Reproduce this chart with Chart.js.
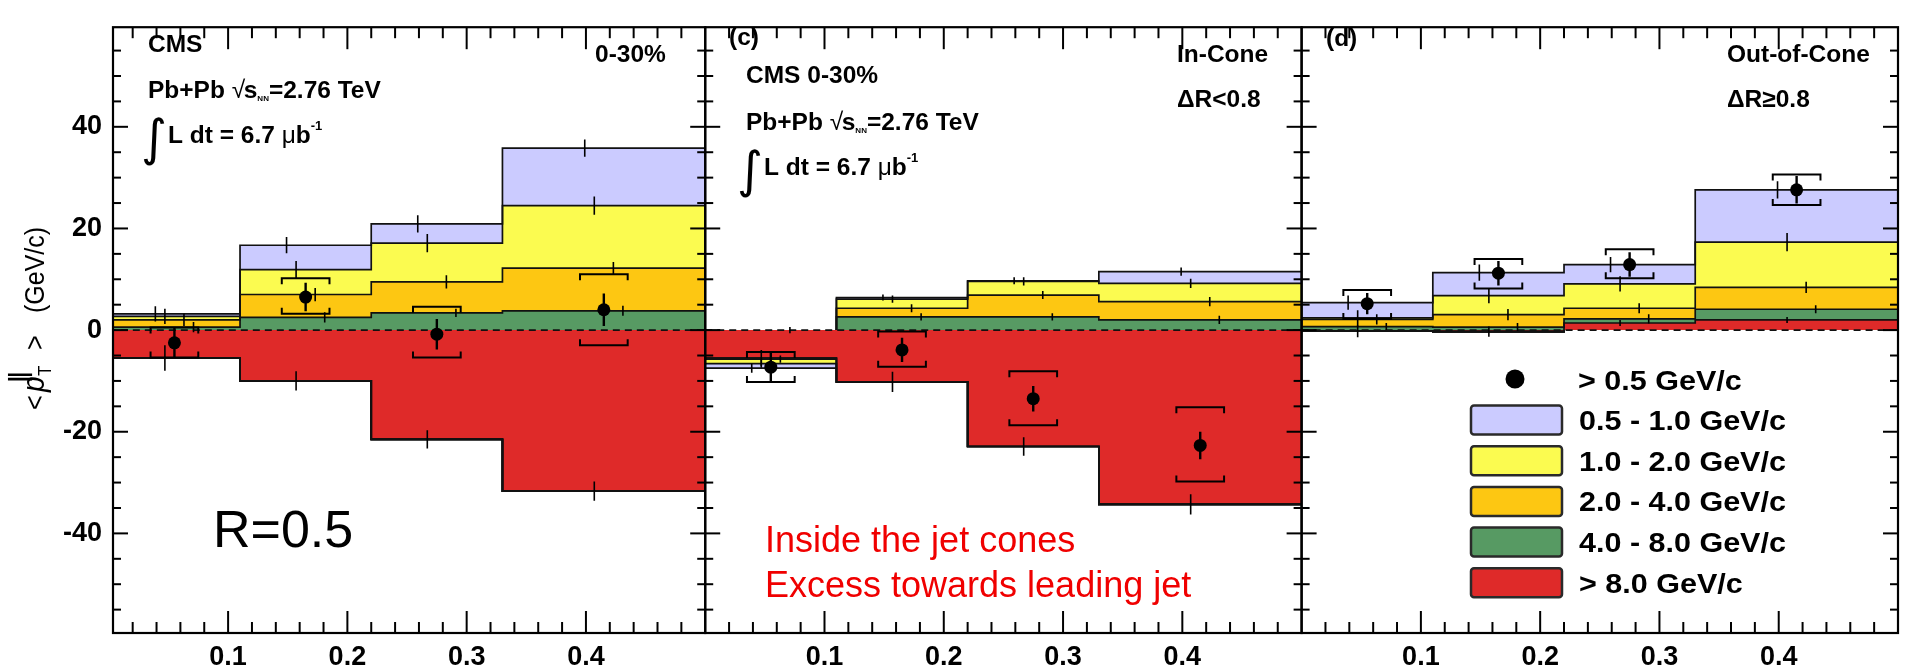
<!DOCTYPE html>
<html>
<head>
<meta charset="utf-8">
<title>Missing pT balance vs ΔR</title>
<script src="https://cdn.jsdelivr.net/npm/chart.js@4.4.1/dist/chart.umd.min.js"></script>
<style>
  html, body { margin: 0; padding: 0; background: #fff; }
  #wrap { width: 1912px; height: 672px; position: relative; }
  canvas { display: block; }
</style>
</head>
<body>
<div id="wrap"><canvas id="c" width="1912" height="672"></canvas></div>
<script>
// ΔR bin edges shared by the three panels
const binEdges = [0, 0.11, 0.22, 0.33, 0.5];
const xTickVals = [0.1, 0.2, 0.3, 0.4];
const xTickLabels = ['0.1', '0.2', '0.3', '0.4'];
const yTickVals = [-40, -20, 0, 20, 40];

// Panel 1: all tracks, R=0.5 — stacked contributions per track pT range (GeV/c)
const allGt8   = [-5.5, -10.0, -21.5, -31.7];
const all4to8  = [0.6, 2.5, 3.4, 3.8];
const all2to4  = [1.4, 4.5, 6.1, 8.4];
const all1to2  = [0.7, 4.9, 7.6, 12.3];
const all05to1 = [0.5, 4.8, 3.8, 11.3];
const allErrGt8   = [2.5, 1.9, 1.8, 1.9];
const allErr4to8  = [1.0, 1.0, 0.8, 1.0];
const allErr2to4  = [1.2, 1.3, 1.3, 1.2];
const allErr1to2  = [1.5, 1.7, 1.8, 1.8];
const allErr05to1 = [1.5, 1.6, 1.7, 1.7];
const allTotal = [-2.5, 6.5, -0.8, 4.0];
const allStat  = [3.0, 2.8, 3.0, 3.2];
const allSysHi = [0.5, 10.2, 4.6, 11.0];
const allSysLo = [-5.4, 3.2, -5.4, -3.0];

// Panel 2: in-cone (ΔR<0.8)
const inGt8   = [-5.5, -10.2, -22.9, -34.3];
const in4to8  = [0.0, 2.6, 2.6, 2.0];
const in2to4  = [-0.2, 1.7, 4.3, 3.6];
const in1to2  = [-0.9, 1.8, 2.7, 3.6];
const in05to1 = [-0.9, 0.3, 0.1, 2.3];
const inErrGt8   = [1.6, 2.0, 1.8, 2.0];
const inErr4to8  = [0.6, 0.7, 0.7, 0.8];
const inErr2to4  = [0.7, 0.8, 0.8, 0.9];
const inErr1to2  = [0.8, 0.7, 0.8, 0.9];
const inErr05to1 = [0.9, 0.6, 0.7, 0.8];
const inTotal = [-7.3, -3.9, -13.5, -22.7];
const inStat  = [2.8, 2.4, 2.5, 2.7];
const inSysHi = [-4.3, -0.3, -8.1, -15.2];
const inSysLo = [-10.2, -7.2, -18.7, -29.8];

// Panel 3: out-of-cone (ΔR≥0.8)
const outGt8   = [-0.2, -0.3, 1.4, 2.0];
const out4to8  = [0.7, 0.6, 0.8, 2.1];
const out2to4  = [1.4, 2.45, 2.1, 4.3];
const out1to2  = [0.3, 3.75, 4.8, 8.9];
const out05to1 = [3.0, 4.5, 3.8, 10.3];
const outErrGt8   = [1.2, 1.0, 0.6, 0.6];
const outErr4to8  = [0.7, 0.8, 0.9, 0.8];
const outErr2to4  = [1.0, 1.1, 1.0, 1.1];
const outErr1to2  = [1.5, 1.5, 1.5, 1.8];
const outErr05to1 = [1.4, 1.6, 1.5, 1.7];
const outTotal = [5.2, 11.2, 12.9, 27.6];
const outStat  = [2.1, 2.4, 2.4, 2.7];
const outSysHi = [7.9, 14.0, 15.9, 30.6];
const outSysLo = [2.2, 8.2, 10.2, 24.6];

// stacking order (from zero outward): >8, 4-8, 2-4, 1-2, 0.5-1
const compColors = ['#df2a29', '#579a63', '#fdc712', '#fbfb50', '#cbcbff'];
const compLabels = ['> 8.0 GeV/c', '4.0 - 8.0 GeV/c', '2.0 - 4.0 GeV/c', '1.0 - 2.0 GeV/c', '0.5 - 1.0 GeV/c'];
const errOffsets = [-0.008, 0.016, 0.008, -0.008, -0.016];

const panels = [
  { comps: [allGt8, all4to8, all2to4, all1to2, all05to1],
    errs: [allErrGt8, allErr4to8, allErr2to4, allErr1to2, allErr05to1],
    total: allTotal, stat: allStat, sysHi: allSysHi, sysLo: allSysLo },
  { comps: [inGt8, in4to8, in2to4, in1to2, in05to1],
    errs: [inErrGt8, inErr4to8, inErr2to4, inErr1to2, inErr05to1],
    total: inTotal, stat: inStat, sysHi: inSysHi, sysLo: inSysLo },
  { comps: [outGt8, out4to8, out2to4, out1to2, out05to1],
    errs: [outErrGt8, outErr4to8, outErr2to4, outErr1to2, outErr05to1],
    total: outTotal, stat: outStat, sysHi: outSysHi, sysLo: outSysLo }
];

const PANEL_W = 0.5;
const nBins = binEdges.length - 1;
const centers = binEdges.slice(0, -1).map((e, i) => (e + binEdges[i + 1]) / 2);

// positive parts stack upward, negative parts stack downward
function stackPanel(comps) {
  const pos = new Array(nBins).fill(0), neg = new Array(nBins).fill(0);
  return comps.map(vals => {
    const inner = [], outer = [], posCum = [], negCum = [];
    for (let i = 0; i < nBins; i++) {
      const v = vals[i];
      if (v >= 0) { inner.push(pos[i]); pos[i] += v; outer.push(pos[i]); }
      else { inner.push(neg[i]); neg[i] += v; outer.push(neg[i]); }
      posCum.push(pos[i]); negCum.push(neg[i]);
    }
    return { inner, outer, posCum, negCum };
  });
}
// stepped-line points: one per bin at its left edge, plus the closing right edge
function stepPts(off, vals) {
  const pts = vals.map((v, i) => ({ x: off + binEdges[i], y: v }));
  pts.push({ x: off + binEdges[nBins], y: vals[nBins - 1] });
  return pts;
}
// outline points: both edges of every bin
function edgePts(off, vals) {
  const pts = [];
  vals.forEach((v, i) => { pts.push({ x: off + binEdges[i], y: v }); pts.push({ x: off + binEdges[i + 1], y: v }); });
  return pts;
}

const datasets = [];
const stacks = panels.map(p => stackPanel(p.comps));
panels.forEach((p, pi) => {
  const off = pi * PANEL_W;
  const levels = stacks[pi];
  levels.forEach((lv, ci) => {
    datasets.push({ label: 'inner', data: stepPts(off, lv.inner), stepped: true, borderWidth: 0,
      borderColor: 'rgba(0,0,0,0)', pointRadius: 0, fill: false, order: 40 });
    datasets.push({ label: compLabels[ci], data: stepPts(off, lv.outer), stepped: true, borderWidth: 0,
      borderColor: 'rgba(0,0,0,0)', backgroundColor: compColors[ci], pointRadius: 0, fill: '-1', order: 40 });
  });
  levels.forEach(lv => {
    [lv.posCum, lv.negCum].forEach(cum => {
      datasets.push({ label: 'edge', data: edgePts(off, cum), borderColor: '#111', borderWidth: 1.7,
        borderJoinStyle: 'miter', pointRadius: 0, fill: false, order: 30,
        segment: { borderColor: c => (c.p0.parsed.y === 0 && c.p1.parsed.y === 0) ? 'rgba(0,0,0,0)' : '#111' } });
    });
  });
  datasets.push({ label: 'zero', data: [{ x: off, y: 0 }, { x: off + PANEL_W, y: 0 }], borderColor: '#111',
    borderWidth: 1.7, borderDash: [7, 5], pointRadius: 0, fill: false, order: 20 });
  datasets.push({ label: '> 0.5 GeV/c', data: p.total.map((v, i) => ({ x: off + centers[i], y: v })),
    showLine: false, pointRadius: 6.5, pointBackgroundColor: '#000', pointBorderWidth: 0, order: 10 });
});

const FONT = '"Liberation Sans", Arial, Helvetica, sans-serif';

function seg(ctx, x1, y1, x2, y2) { ctx.beginPath(); ctx.moveTo(x1, y1); ctx.lineTo(x2, y2); ctx.stroke(); }

function rich(ctx, x, y, parts) {
  let cx = x;
  parts.forEach(pt => {
    ctx.font = pt.f;
    ctx.fillText(pt.t, cx + (pt.dx || 0), y + (pt.dy || 0));
    cx += (pt.w !== undefined) ? pt.w : ctx.measureText(pt.t).width;
  });
}

function lumiLine(ctx, x, base) {
  ctx.font = '50px "DejaVu Sans", sans-serif';
  ctx.fillText('\u222B', x - 7, base + 12);
  rich(ctx, x + 20, base, [
    { t: 'L dt = 6.7 ', f: 'bold 24.5px ' + FONT },
    { t: '\u03BC', f: '24.5px ' + FONT },
    { t: 'b', f: 'bold 24.5px ' + FONT },
    { t: '-1', f: 'bold 13px ' + FONT, dy: -13 }
  ]);
}
function energyLine(ctx, x, base) {
  rich(ctx, x, base, [
    { t: 'Pb+Pb ', f: 'bold 24.5px ' + FONT },
    { t: '\u221A', f: '24.5px ' + FONT, w: 12 },
    { t: 's', f: 'bold 24.5px ' + FONT },
    { t: 'NN', f: 'bold 8px ' + FONT, dy: 3 },
    { t: '=2.76 TeV', f: 'bold 24.5px ' + FONT }
  ]);
}

const errorBars = {
  id: 'errorBars',
  afterDatasetsDraw(chart) {
    const ctx = chart.ctx, xs = chart.scales.x, ys = chart.scales.y, a = chart.chartArea;
    ctx.save();
    ctx.beginPath(); ctx.rect(a.left, a.top, a.right - a.left, a.bottom - a.top); ctx.clip();
    ctx.strokeStyle = '#000';
    panels.forEach((p, pi) => {
      const off = pi * PANEL_W;
      ctx.lineWidth = 1.6;
      stacks[pi].forEach((lv, ci) => {
        lv.outer.forEach((edge, bi) => {
          const e = p.errs[ci][bi];
          const x = xs.getPixelForValue(off + centers[bi] + errOffsets[ci]);
          seg(ctx, x, ys.getPixelForValue(edge - e), x, ys.getPixelForValue(edge + e));
        });
      });
      p.total.forEach((v, bi) => {
        const xc = off + centers[bi];
        const x = xs.getPixelForValue(xc);
        ctx.lineWidth = 2.4;
        seg(ctx, x, ys.getPixelForValue(v - p.stat[bi]), x, ys.getPixelForValue(v + p.stat[bi]));
        const xl = xs.getPixelForValue(xc - 0.02), xr = xs.getPixelForValue(xc + 0.02);
        const yh = ys.getPixelForValue(p.sysHi[bi]), yl = ys.getPixelForValue(p.sysLo[bi]);
        ctx.lineWidth = 2;
        ctx.beginPath();
        ctx.moveTo(xl, yh + 6); ctx.lineTo(xl, yh); ctx.lineTo(xr, yh); ctx.lineTo(xr, yh + 6);
        ctx.moveTo(xl, yl - 6); ctx.lineTo(xl, yl); ctx.lineTo(xr, yl); ctx.lineTo(xr, yl - 6);
        ctx.stroke();
      });
    });
    ctx.restore();
  }
};

const decorations = {
  id: 'decorations',
  afterDraw(chart) {
    const ctx = chart.ctx, xs = chart.scales.x, ys = chart.scales.y, a = chart.chartArea;
    ctx.save();
    ctx.strokeStyle = '#000';
    ctx.fillStyle = '#000';
    // panel frames with inward ticks on all four sides
    for (let pi = 0; pi < 3; pi++) {
      const l = pi === 0 ? a.left : xs.getPixelForValue(pi * PANEL_W);
      const r = xs.getPixelForValue(pi * PANEL_W + PANEL_W);
      ctx.lineWidth = 2;
      for (let v = -55; v <= 55; v += 5) {
        const y = ys.getPixelForValue(v);
        const len = (v % 20 === 0) ? 15 : 8;
        seg(ctx, l, y, l + len, y);
        seg(ctx, r - len, y, r, y);
      }
      for (let k = 1; k < 25; k++) {
        const x = xs.getPixelForValue(pi * PANEL_W + k * 0.02);
        const len = (k % 5 === 0) ? 22 : 11;
        seg(ctx, x, a.top, x, a.top + len);
        seg(ctx, x, a.bottom - len, x, a.bottom);
      }
      ctx.lineWidth = 2.2;
      ctx.strokeRect(l, a.top, r - l, a.bottom - a.top);
    }

    // panel captions
    ctx.textBaseline = 'alphabetic';
    ctx.font = 'bold 24.5px ' + FONT;
    ctx.fillText('CMS', 148, 52);
    ctx.fillText('0-30%', 595, 62);
    energyLine(ctx, 148, 98);
    lumiLine(ctx, 148, 143);

    ctx.font = 'bold 24.5px ' + FONT;
    ctx.fillText('(c)', 729, 45);
    ctx.fillText('CMS 0-30%', 746, 83);
    energyLine(ctx, 746, 130);
    lumiLine(ctx, 744, 175);
    ctx.font = 'bold 24.5px ' + FONT;
    ctx.fillText('In-Cone', 1177, 62);
    ctx.fillText('\u0394R<0.8', 1177, 107);

    ctx.fillText('(d)', 1326, 46);
    ctx.fillText('Out-of-Cone', 1727, 62);
    ctx.fillText('\u0394R\u22650.8', 1727, 107);

    ctx.font = '52px ' + FONT;
    ctx.fillText('R=0.5', 213, 547);

    ctx.fillStyle = '#f00000';
    ctx.font = '36px ' + FONT;
    ctx.fillText('Inside the jet cones', 765, 552);
    ctx.fillText('Excess towards leading jet', 765, 597);

    // legend
    ctx.fillStyle = '#000';
    ctx.beginPath(); ctx.arc(1515, 379, 9.5, 0, Math.PI * 2); ctx.fill();
    const legText = (s, x, y) => {
      ctx.save(); ctx.translate(x, y); ctx.scale(1.13, 1);
      ctx.font = 'bold 27px ' + FONT; ctx.fillText(s, 0, 0); ctx.restore();
    };
    legText('> 0.5 GeV/c', 1578, 390);
    for (let r = 0; r < 5; r++) {
      const ci = 4 - r;
      const cy = 419.5 + r * 40.7;
      ctx.fillStyle = compColors[ci];
      ctx.strokeStyle = '#2a2a2a';
      ctx.lineWidth = 2.5;
      ctx.beginPath();
      ctx.roundRect(1471, cy - 14, 91, 29, 3);
      ctx.fill(); ctx.stroke();
      ctx.fillStyle = '#000';
      legText(compLabels[ci], 1579, cy + 10.5);
    }

    // y-axis title: <p_T^∥> (GeV/c)
    ctx.save();
    ctx.translate(44, 410);
    ctx.rotate(-Math.PI / 2);
    ctx.scale(1, 1.12);
    ctx.fillStyle = '#000';
    ctx.font = '25px ' + FONT;
    ctx.fillText('<', 0, 0);
    ctx.font = 'italic 28px ' + FONT;
    ctx.fillText('p', 18, 0);
    ctx.font = '17px ' + FONT;
    ctx.fillText('T', 34, 6);
    ctx.font = 'bold 22px "DejaVu Sans", sans-serif';
    ctx.fillText('\u2225', 27, -15);
    ctx.font = '25px ' + FONT;
    ctx.fillText('>', 60, 0);
    ctx.fillText('(GeV/c)', 97, 0);
    ctx.restore();

    ctx.restore();
  }
};

new Chart(document.getElementById('c'), {
  type: 'line',
  data: { datasets },
  options: {
    responsive: false,
    devicePixelRatio: 1,
    animation: false,
    events: [],
    layout: { padding: { top: 7, right: 14, left: 0, bottom: 0 } },
    plugins: { legend: { display: false }, tooltip: { enabled: false } },
    scales: {
      x: {
        type: 'linear', min: 0.0035, max: 3 * PANEL_W,
        grid: { display: false, drawTicks: false }, border: { display: false },
        afterBuildTicks: s => {
          s.ticks = [];
          for (let pi = 0; pi < 3; pi++) xTickVals.forEach(v => s.ticks.push({ value: pi * PANEL_W + v }));
        },
        afterFit: s => { s.height = 39; },
        ticks: {
          autoSkip: false, maxRotation: 0, minRotation: 0, padding: 8, color: '#000',
          font: { family: FONT, size: 27, weight: 'bold' },
          callback: (v, i) => xTickLabels[i % xTickLabels.length]
        }
      },
      y: {
        type: 'linear', min: -59.6, max: 59.6,
        grid: { display: false, drawTicks: false }, border: { display: false },
        afterBuildTicks: s => { s.ticks = yTickVals.map(v => ({ value: v })); },
        afterFit: s => { s.width = 113; },
        ticks: { padding: 11, color: '#000', font: { family: FONT, size: 27, weight: 'bold' },
          callback: v => String(v) }
      }
    }
  },
  plugins: [errorBars, decorations]
});
</script>
</body>
</html>
